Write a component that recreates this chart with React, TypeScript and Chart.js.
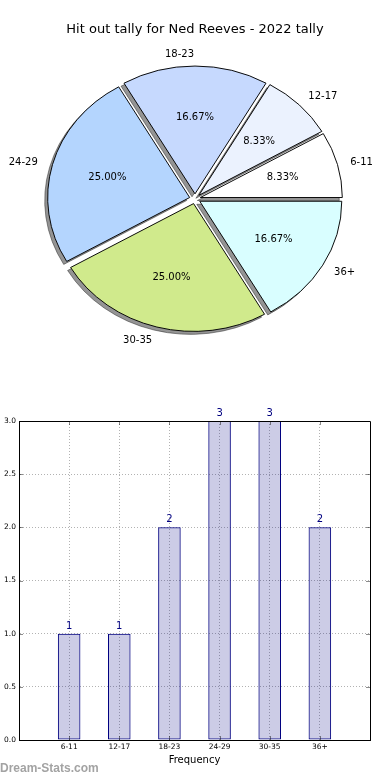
import React, { useEffect, useRef } from 'react';
import { Chart, registerables } from 'chart.js';

Chart.register(...registerables);

// ---- data ----
const TITLE = 'Hit out tally for Ned Reeves - 2022 tally';
const categories = ['6-11', '12-17', '18-23', '24-29', '30-35', '36+'];
const counts = [1, 1, 2, 3, 3, 2];
const pieColors = ['#ffffff', '#ebf2fe', '#c6d9fe', '#b4d5fe', '#d0ea8c', '#d9feff'];
const yTicks = [0, 0.5, 1, 1.5, 2, 2.5, 3];
const X_LABEL = 'Frequency';
const WATERMARK = 'Dream-Stats.com';

// ---- style ----
const FONT = '"DejaVu Sans", sans-serif';
const R = 142;
const Y_SQUASH = 0.9;
const EXPLODE = 5.5; // px shift of each slice along its bisector
const FAR = 10000;

const drawArcs = (ctx: any, arcs: any[]) => {
  arcs.forEach((arc: any) => {
    const h = (arc.startAngle + arc.endAngle) / 2;
    ctx.save();
    ctx.translate(Math.cos(h) * EXPLODE, Math.sin(h) * EXPLODE);
    arc.draw(ctx);
    ctx.restore();
  });
};

const pieShape = {
  id: 'pieShape',
  beforeDatasetDraw(chart: any, args: any) {
    const ctx = chart.ctx;
    const arcs = args.meta.data;
    const { x, y } = arcs[0];
    ctx.save();
    ctx.translate(x, y);
    ctx.scale(1, -Y_SQUASH);
    ctx.translate(-x, -y);
    // shadow pass: shapes far away, only their shadows land on the canvas
    ctx.save();
    ctx.translate(FAR, 0);
    ctx.shadowColor = 'rgba(0,0,0,0.42)';
    ctx.shadowOffsetX = -FAR - 3;
    ctx.shadowOffsetY = 3;
    ctx.shadowBlur = 0;
    drawArcs(ctx, arcs);
    ctx.restore();
    // normal pass
    drawArcs(ctx, arcs);
    ctx.restore();
    return false;
  },
  afterDatasetsDraw(chart: any) {
    const ctx = chart.ctx;
    const meta = chart.getDatasetMeta(0);
    const total = counts.reduce((s, v) => s + v, 0);
    ctx.save();
    ctx.font = `10px ${FONT}`;
    ctx.fillStyle = '#000';
    ctx.textBaseline = 'middle';
    meta.data.forEach((arc: any, i: number) => {
      const { x, y, startAngle, endAngle, outerRadius } = arc;
      const h = (startAngle + endAngle) / 2;
      const c = Math.cos(h);
      const s = Math.sin(h);
      const dl = EXPLODE + 1.1 * outerRadius;
      ctx.textAlign = c > 1e-6 ? 'left' : 'right';
      ctx.fillText(categories[i], x + dl * c - 1, y - dl * s * Y_SQUASH + 1);
      const dp = EXPLODE + 0.6 * outerRadius;
      ctx.textAlign = 'center';
      ctx.fillText(((counts[i] / total) * 100).toFixed(2) + '%', x + dp * c, y - dp * s * Y_SQUASH);
    });
    ctx.restore();
  },
};

const barExtras = {
  id: 'barExtras',
  afterDatasetsDraw(chart: any) {
    const ctx = chart.ctx;
    const meta = chart.getDatasetMeta(0);
    ctx.save();
    ctx.font = `10px ${FONT}`;
    ctx.fillStyle = '#000080';
    ctx.textAlign = 'center';
    ctx.textBaseline = 'alphabetic';
    meta.data.forEach((bar: any, i: number) => {
      ctx.fillText(String(counts[i]), bar.x, bar.y - 5);
    });
    ctx.restore();
  },
  afterDraw(chart: any) {
    const ctx = chart.ctx;
    const { left, right, top, bottom } = chart.chartArea;
    const xs = chart.scales.x;
    const ys = chart.scales.y;
    ctx.save();
    // inward ticks
    ctx.strokeStyle = 'rgba(0,0,0,0.45)';
    ctx.lineWidth = 1;
    ctx.beginPath();
    xs.ticks.forEach((t: any) => {
      const px = Math.round(xs.getPixelForValue(t.value)) + 0.5;
      ctx.moveTo(px, top); ctx.lineTo(px, top + 4);
      ctx.moveTo(px, bottom); ctx.lineTo(px, bottom - 4);
    });
    ys.ticks.forEach((t: any) => {
      const py = Math.round(ys.getPixelForValue(t.value)) + 0.5;
      ctx.moveTo(left, py); ctx.lineTo(left + 4, py);
      ctx.moveTo(right, py); ctx.lineTo(right - 4, py);
    });
    ctx.stroke();
    // frame
    ctx.strokeStyle = '#000';
    ctx.lineWidth = 1;
    ctx.beginPath();
    const l = Math.round(left) + 0.5;
    const r = Math.round(right) + 0.5;
    const t = Math.round(top) + 0.5;
    const b = Math.round(bottom) + 0.5;
    ctx.moveTo(l, t); ctx.lineTo(r, t); ctx.lineTo(r, b); ctx.lineTo(l, b); ctx.closePath();
    ctx.stroke();
    ctx.restore();
  },
};

export default function App() {
  const pieRef = useRef<HTMLCanvasElement>(null);
  const barRef = useRef<HTMLCanvasElement>(null);

  useEffect(() => {
    const pie = new Chart(pieRef.current as HTMLCanvasElement, {
      type: 'pie',
      data: {
        labels: categories,
        datasets: [{
          data: counts,
          backgroundColor: pieColors,
          borderColor: '#000',
          borderWidth: 1,
          offset: 0,
          hoverOffset: 0,
          clip: false,
        } as any],
      },
      options: {
        responsive: false,
        animation: false,
        devicePixelRatio: 1,
        rotation: 90,
        radius: R,
        layout: { padding: 0 },
        events: [],
        plugins: {
          legend: { display: false },
          tooltip: { enabled: false },
          title: {
            display: true,
            text: TITLE,
            color: '#000',
            font: { family: FONT, size: 13, weight: 'normal' },
            padding: { top: 22, bottom: 0 },
          },
        },
      } as any,
      plugins: [pieShape],
    });

    const bar = new Chart(barRef.current as HTMLCanvasElement, {
      type: 'bar',
      data: {
        datasets: [{
          data: counts.map((c, i) => ({ x: i + 1, y: c })),
          backgroundColor: 'rgba(0,0,128,0.2)',
          borderColor: '#000080',
          borderWidth: 1,
          borderSkipped: false,
          barPercentage: 0.45,
          categoryPercentage: 1,
        } as any],
      },
      options: {
        responsive: false,
        animation: false,
        devicePixelRatio: 1,
        events: [],
        layout: { padding: { top: 41, right: 20, bottom: 0, left: 0 } },
        plugins: { legend: { display: false }, tooltip: { enabled: false } },
        scales: {
          x: {
            type: 'linear',
            offset: false,
            min: 0,
            max: categories.length + 1,
            afterBuildTicks: (s: any) => { s.ticks = categories.map((_, i) => ({ value: i + 1 })); },
            afterFit: (s: any) => { s.height = 40; },
            ticks: {
              autoSkip: false,
              maxRotation: 0,
              padding: 3,
              color: '#000',
              font: { family: FONT, size: 7.5 },
              callback: (v: any) => categories[Number(v) - 1] ?? '',
            },
            grid: { offset: false, color: 'rgba(0,0,0,0.3)', lineWidth: 1, drawTicks: false },
            border: { display: true, color: '#000', width: 1, dash: [1, 2] },
            title: {
              display: true,
              text: X_LABEL,
              color: '#000',
              font: { family: FONT, size: 10 },
              padding: { top: 0, bottom: 14 },
            },
          },
          y: {
            type: 'linear',
            min: 0,
            max: 3,
            afterBuildTicks: (s: any) => { s.ticks = yTicks.map((v) => ({ value: v })); },
            afterFit: (s: any) => { s.width = 19; },
            ticks: {
              padding: 3,
              color: '#000',
              font: { family: FONT, size: 7.5 },
              callback: (v: any) => Number(v).toFixed(1),
            },
            grid: { color: 'rgba(0,0,0,0.3)', lineWidth: 1, drawTicks: false },
            border: { display: true, color: '#000', width: 1, dash: [1, 2] },
          },
        },
      } as any,
      plugins: [barExtras],
    });

    return () => { pie.destroy(); bar.destroy(); };
  }, []);

  return (
    <div style={{ position: 'absolute', left: 0, top: 0, width: 390, height: 780, background: '#fff' }}>
      <canvas ref={pieRef} width={390} height={360}
        style={{ position: 'absolute', left: 0, top: 0, width: 390, height: 360 }} />
      <canvas ref={barRef} width={390} height={400}
        style={{ position: 'absolute', left: 0, top: 380, width: 390, height: 400 }} />
      <div style={{
        position: 'absolute', left: 0, top: 761, fontFamily: '"Liberation Sans", Arial, sans-serif',
        fontSize: 12, fontWeight: 'bold', lineHeight: '14px', color: '#a3a3a3', whiteSpace: 'nowrap',
      }}>{WATERMARK}</div>
    </div>
  );
}
